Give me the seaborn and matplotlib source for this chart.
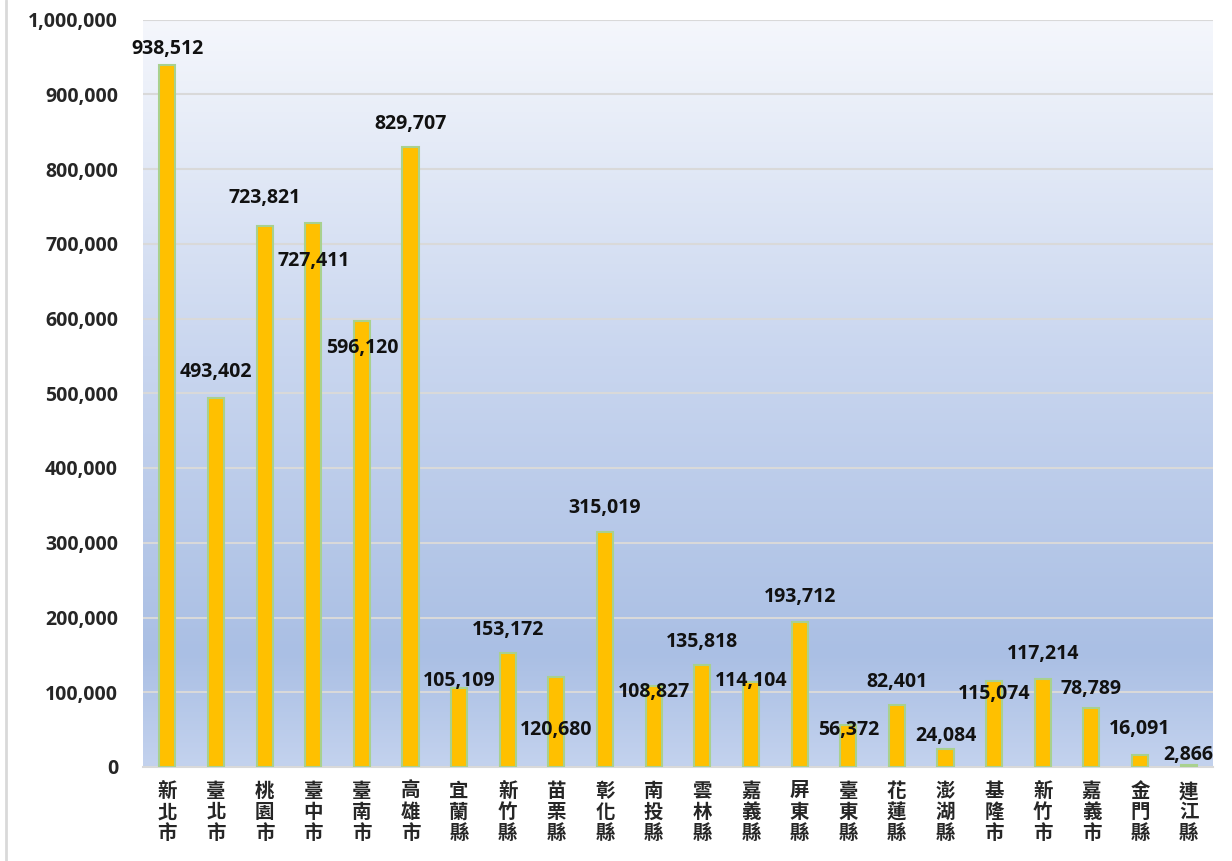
import numpy as np
import pandas as pd
import seaborn as sns
import matplotlib.pyplot as plt
from matplotlib.colors import LinearSegmentedColormap
from matplotlib.ticker import FuncFormatter, FixedLocator

# data
counties = ['新北市', '臺北市', '桃園市', '臺中市', '臺南市', '高雄市', '宜蘭縣', '新竹縣',
            '苗栗縣', '彰化縣', '南投縣', '雲林縣', '嘉義縣', '屏東縣', '臺東縣', '花蓮縣',
            '澎湖縣', '基隆市', '新竹市', '嘉義市', '金門縣', '連江縣']
values = [938512, 493402, 723821, 727411, 596120, 829707, 105109, 153172,
          120680, 315019, 108827, 135818, 114104, 193712, 56372, 82401,
          24084, 115074, 117214, 78789, 16091, 2866]

# label offset from bar top, in pixels (negative = above)
label_dy = [-16, -26, -28, 38, 27, -23, -7, -23, 53, -24, 6, -23, -1, -25, 5, -23,
            -13, 13, -25, -19, -26, -10]

sns.set_theme(style='white')
plt.rcParams['font.family'] = ['Open Sans', 'Noto Sans CJK TC', 'DejaVu Sans']

df = pd.DataFrame({'county': counties, 'value': values})

fig = plt.figure(figsize=(12.32, 8.61), dpi=100)
ax = fig.add_axes([143 / 1232, 1 - 767 / 861, (1213 - 143) / 1232, (767 - 19.5) / 861])

# gradient background
cmap = LinearSegmentedColormap.from_list('bg', [(0, '#f5f7fc'), (0.45, '#c9d6ef'),
                                                (0.85, '#aabfe4'), (1, '#c3d2ee')])
grad = np.linspace(0, 1, 256).reshape(-1, 1)
ax.imshow(grad, aspect='auto', cmap=cmap, extent=[0, 1, 0, 1],
          transform=ax.transAxes, zorder=0)

sns.barplot(data=df, x='county', y='value', color='#FFC000', width=0.33,
            edgecolor='#a9d18e', linewidth=1.5, saturation=1, ax=ax, zorder=3)

ax.set_ylim(0, 1000000)
ax.set_xlim(-0.5, len(counties) - 0.5)
ax.set_yticks(np.arange(0, 1000001, 100000))
ax.yaxis.set_major_formatter(FuncFormatter(lambda v, p: f'{int(v):,}'))
ax.grid(axis='y', color='#d9d9d9', linewidth=1.5, zorder=1)
ax.set_axisbelow(True)
for s in ['top', 'right', 'left']:
    ax.spines[s].set_visible(False)
ax.spines['bottom'].set_color('#d9d9d9')
ax.spines['bottom'].set_linewidth(1.5)
ax.set_xlabel('')
ax.set_ylabel('')

for lab in ax.get_yticklabels():
    lab.set_fontweight('bold')
    lab.set_fontsize(14)
ax.tick_params(axis='y', length=0, pad=18)

ax.set_xticks(range(len(counties)))
ax.set_xticklabels(['\n'.join(c) for c in counties], fontsize=14, fontweight='bold',
                   family=['Noto Sans CJK TC', 'DejaVu Sans'], linespacing=1.12)
ax.tick_params(axis='x', length=0, pad=11)
ax.xaxis.set_minor_locator(FixedLocator(np.arange(-0.5, len(counties), 1)))
ax.tick_params(axis='x', which='minor', length=6, color='#d9d9d9', width=1.5)

for i, (v, dy) in enumerate(zip(values, label_dy)):
    ax.annotate(f'{v:,}', (i, v), xytext=(0, -dy * 0.72), textcoords='offset points',
                ha='center', va='center', fontsize=14, fontweight='bold',
                color='#111111', zorder=5, annotation_clip=False)

# left frame line
fig.add_artist(plt.Line2D([5.5 / 1232, 5.5 / 1232], [0, 1], color='#d9d9d9', linewidth=2))

fig.savefig('out.png', dpi=100)
